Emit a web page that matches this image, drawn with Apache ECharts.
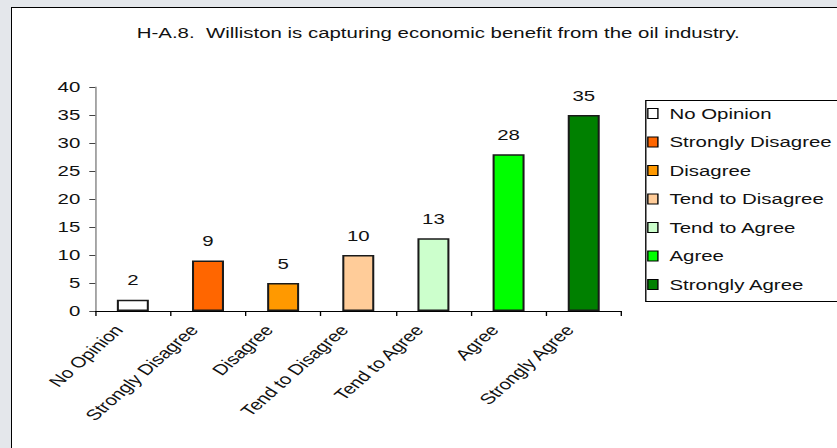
<!DOCTYPE html>
<html>
<head>
<meta charset="utf-8">
<script src="https://cdn.jsdelivr.net/npm/echarts@6/dist/echarts.min.js"></script>
<style>
  body { margin: 0; background: #e4e7eb; }
  .frame {
    position: absolute; left: 11px; top: 7px; width: 826px; height: 441px;
    background: #fff; border-left: 1px solid #000; border-top: 1px solid #000;
  }
  /* the source picture is stretched sideways, so the chart is drawn narrow and widened */
  #chart {
    position: absolute; left: 0; top: 0; width: 615px; height: 448px;
    transform: scaleX(1.361); transform-origin: 0 0;
  }
</style>
</head>
<body>
<div class="frame"></div>
<div id="chart"></div>
<script>
// categories and counts
const categories = ["No Opinion", "Strongly Disagree", "Disagree", "Tend to Disagree", "Tend to Agree", "Agree", "Strongly Agree"];
const counts = [2, 9, 5, 10, 13, 28, 35];
const colors = ["#ffffff", "#ff6600", "#ff9900", "#ffcc99", "#ccffcc", "#00ff00", "#008000"];
const yTicks = [0, 5, 10, 15, 20, 25, 30, 35, 40];

const font = "Liberation Sans, Arial, sans-serif";

// one series per category so each gets its own legend entry
let series = categories.map((name, i) => {
  return {
    name: name,
    type: "bar",
    barWidth: 23.5,
    barGap: "-100%",
    data: categories.map((c, j) => (j === i ? counts[i] : "-")),
    itemStyle: {
      color: colors[i],
      borderColor: "#1a1a1a",
      borderWidth: 1.5,
    },
    label: {
      show: true,
      position: "top",
      distance: 12,
      color: "#111",
      fontSize: 15,
      fontFamily: font,
    },
  };
});

let option = {
  animation: false,
  title: {
    text: "H-A.8.  Williston is capturing economic benefit from the oil industry.",
    left: 317,
    textAlign: "center",
    top: 20,
    textStyle: { fontSize: 15, fontWeight: "normal", color: "#111", fontFamily: font },
  },
  grid: { left: 70, right: 158.5, top: 87, bottom: 137 },
  xAxis: {
    type: "category",
    data: categories,
    axisLine: { lineStyle: { color: "#000", width: 1 } },
    axisTick: { show: true, length: 5, lineStyle: { color: "#000" } },
    axisLabel: {
      interval: 0,
      rotate: 50,
      margin: 4,
      padding: [0, 16, 0, 0],
      color: "#111",
      fontSize: 15,
      fontFamily: font,
    },
  },
  yAxis: {
    type: "value",
    min: yTicks[0],
    max: yTicks[yTicks.length - 1],
    interval: 5,
    axisLine: { show: true, lineStyle: { color: "#808080" } },
    axisTick: { show: true, length: 4.4, lineStyle: { color: "#444" } },
    axisLabel: { margin: 11, color: "#111", fontSize: 15, fontFamily: font },
    splitLine: { show: false },
  },
  legend: {
    orient: "vertical",
    left: 475.5,
    top: 104.5,
    padding: 0,
    itemWidth: 7.4,
    itemHeight: 10,
    itemGap: 10.5,
    icon: "rect",
    itemStyle: { borderColor: "#000", borderWidth: 1 },
    textStyle: { fontSize: 15, lineHeight: 18, color: "#111", fontFamily: font, padding: [0, 0, 0, 3.5] },
    data: categories,
  },
  graphic: [
    {
      type: "rect",
      left: 472,
      top: 98,
      shape: { width: 142, height: 201 },
      style: { fill: "none", stroke: "#000", lineWidth: 1 },
      silent: true,
    },
  ],
  series: series,
};

let myChart = echarts.init(document.getElementById("chart"), null, { renderer: "svg" });
myChart.setOption(option);
</script>
</body>
</html>
